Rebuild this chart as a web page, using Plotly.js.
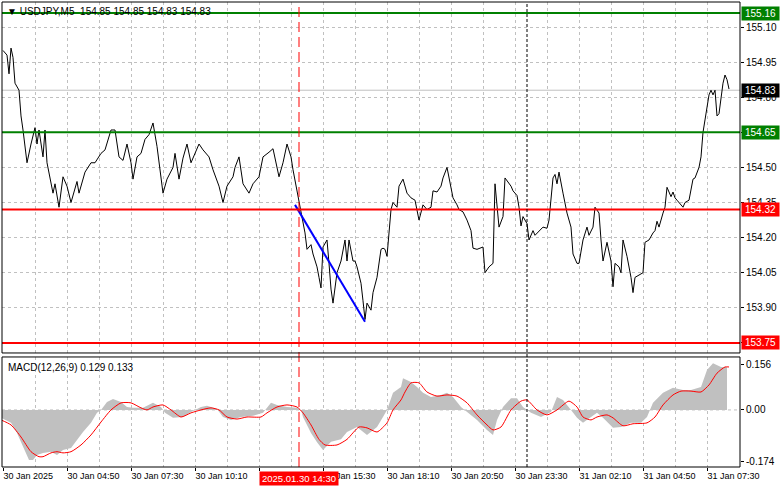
<!DOCTYPE html>
<html><head><meta charset="utf-8">
<script src="https://cdn.plot.ly/plotly-3.0.1.min.js"></script>
<style>html,body{margin:0;padding:0;background:#fff;}#chart{width:781px;height:489px;}</style>
</head><body><div id="chart"></div>
<script>
// ---- data (M5 bars counted from 30 Jan 02:10) ----
const priceBars = [0,2,3,4,5,6,8,9,10,11,12,14,16,17,18,20,21,22,25,26,28,30,32,34,37,38,41,44,46,49,51,54,56,58,60,62,64,65,67,69,71,73,75,77,78,80,82,85,86,88,90,92,94,96,98,100,103,105,108,110,112,115,116,118,119,120,123,125,128,130,133,135,138,140,142,144,145,148,150,151,152,154,155,157,158,159,160,162,163,164,165,167,169,170,171,172,173,175,176,177,179,180,181,182,184,185,187,189,190,191,192,194,195,197,198,200,202,204,206,208,210,212,214,215,217,219,220,222,224,225,227,228,230,232,234,235,237,240,241,243,245,246,248,250,251,254,255,257,258,259,260,262,263,265,266,270,272,273,275,276,277,278,280,282,284,285,287,288,290,292,293,295,296,298,299,300,302,304,305,306,308,309,310,312,314,315,316,318,320,321,323,325,326,327,328,330,331,332,334,335,336,337,340,341,343,345,346,348,349,350,351,352,353,354,355,356,357,358,359,360,361,362,363];
const priceValues = [155.00,154.98,154.90,155.01,154.97,154.86,154.83,154.72,154.66,154.59,154.52,154.60,154.67,154.60,154.66,154.545,154.66,154.52,154.39,154.43,154.33,154.46,154.42,154.35,154.44,154.39,154.48,154.52,154.52,154.56,154.575,154.66,154.66,154.545,154.53,154.60,154.52,154.45,154.545,154.56,154.62,154.64,154.69,154.59,154.52,154.39,154.45,154.50,154.56,154.45,154.54,154.60,154.52,154.56,154.60,154.575,154.545,154.49,154.42,154.35,154.42,154.46,154.50,154.545,154.48,154.43,154.39,154.43,154.46,154.545,154.565,154.58,154.46,154.52,154.60,154.545,154.49,154.36,154.26,154.22,154.15,154.17,154.13,154.075,154.03,153.985,154.16,154.19,154.09,153.98,153.92,154.05,154.10,154.15,154.19,154.10,154.19,154.10,154.10,154.075,154.005,153.93,153.85,153.92,153.89,153.965,154.03,154.15,154.155,154.15,154.12,154.32,154.35,154.33,154.42,154.45,154.39,154.37,154.36,154.275,154.34,154.32,154.33,154.40,154.395,154.42,154.455,154.50,154.42,154.37,154.34,154.32,154.31,154.275,154.23,154.155,154.15,154.16,154.05,154.075,154.09,154.43,154.245,154.29,154.455,154.42,154.40,154.38,154.33,154.25,154.29,154.26,154.19,154.23,154.21,154.245,154.24,154.275,154.455,154.47,154.43,154.48,154.39,154.305,154.245,154.13,154.09,154.09,154.19,154.245,154.21,154.245,154.33,154.305,154.19,154.10,154.18,154.10,153.99,154.09,154.075,154.05,154.19,154.12,154.03,153.965,154.03,154.04,154.05,154.18,154.19,154.22,154.23,154.27,154.245,154.305,154.33,154.415,154.375,154.395,154.37,154.36,154.33,154.35,154.36,154.45,154.455,154.50,154.545,154.65,154.70,154.745,154.81,154.83,154.81,154.83,154.72,154.73,154.80,154.86,154.895,154.875,154.835];

const histBars = [-1,4,7,10,13,15,17,20,24,27,30,34,37,40,44,47,49,52,55,59,62,65,70,75,79,81,85,90,94,99,102,107,110,114,119,125,130,134,137,142,147,149,150,154,157,160,164,169,172,177,182,187,190,192,195,199,200,204,207,210,214,219,222,225,229,232,237,242,245,247,250,254,257,260,264,269,274,277,280,284,287,290,294,297,300,305,309,314,319,322,325,330,335,340,344,349,352,355,359,362];
const histValues = [-0.027,-0.044,-0.078,-0.125,-0.17,-0.17,-0.153,-0.146,-0.142,-0.153,-0.136,-0.129,-0.10,-0.075,-0.044,-0.01,0,0.027,0.037,0.027,0.01,0.007,0.007,0.024,0.01,-0.01,-0.027,-0.024,-0.007,0.01,0.014,0.003,-0.024,-0.034,-0.024,-0.02,-0.01,0.024,0.017,0.01,0.007,0,-0.024,-0.078,-0.11,-0.136,-0.108,-0.10,-0.075,-0.058,-0.085,-0.058,-0.024,0,0.058,0.078,0.108,0.095,0.078,0.058,0.044,0.051,0.058,0.044,0.01,-0.007,-0.034,-0.068,-0.085,-0.034,0.01,0.04,0.04,0.01,-0.01,-0.024,-0.007,0.044,0.034,0,-0.027,-0.044,-0.024,-0.01,-0.027,-0.061,-0.058,-0.044,-0.044,-0.024,0.024,0.058,0.075,0.068,0.068,0.078,0.136,0.159,0.146,0.146];

const signalBars = [-1,4,9,14,18,20,24,27,30,34,39,44,49,54,59,64,69,72,75,80,84,89,94,99,104,108,112,117,122,129,132,137,142,147,150,154,158,161,167,172,178,182,187,192,195,199,201,204,208,212,217,222,227,232,237,242,245,249,254,259,262,267,272,277,283,287,290,294,297,302,305,310,315,322,326,330,335,339,344,349,353,357,361,363];
const signalValues = [-0.034,-0.051,-0.092,-0.142,-0.159,-0.159,-0.146,-0.142,-0.146,-0.142,-0.119,-0.085,-0.041,0,0.024,0.024,0.007,0,0.01,0.017,0,-0.024,-0.01,0,0.007,0,-0.024,-0.031,-0.024,-0.024,-0.01,0.01,0.017,0.01,-0.01,-0.051,-0.10,-0.119,-0.119,-0.10,-0.058,-0.061,-0.075,-0.044,0,0.034,0.061,0.092,0.092,0.061,0.047,0.051,0.047,0.024,-0.017,-0.051,-0.068,-0.058,0,0.03,0.034,0,-0.017,0,0.03,0.01,-0.024,-0.034,-0.024,-0.017,-0.027,-0.054,-0.047,-0.044,-0.024,0.017,0.051,0.064,0.064,0.061,0.085,0.125,0.146,0.146];

const trendBars = [146, 181];
const trendPrices = [154.34, 153.84];

const supportResistance = [155.16, 154.65, 154.32, 153.75];
const levelLabels = ['155.16', '154.65', '154.32', '153.75'];
const lastPrice = 154.83;
const lastPriceLabel = '154.83';

const priceTicks = [155.10, 154.95, 154.80, 154.65, 154.50, 154.35, 154.20, 154.05, 153.90, 153.75];
// labels hidden behind the level boxes are left blank, as in the terminal
const priceTickText = ['155.10', '154.95', '154.80', '', '154.50', '154.35', '154.20', '154.05', '153.90', ''];
const macdTicks = [0.156, 0, -0.174];
const macdTickText = ['0.156', '0.00', '-0.174'];

const timeTickBars = [0, 32, 64, 96, 128, 160, 192, 224, 256, 288, 320, 352];
const timeTickLabels = ['30 Jan 2025', '30 Jan 04:50', '30 Jan 07:30', '30 Jan 10:10', '', '30 Jan 15:30', '30 Jan 18:10', '30 Jan 20:50', '30 Jan 23:30', '31 Jan 02:10', '31 Jan 04:50', '31 Jan 07:30'];
const gridMinorBars = [16, 48, 80, 112, 144, 176, 208, 240, 272, 304, 336, 368];

const eventBar = 148;
const eventLabel = '2025.01.30 14:30';
const daySeparatorBar = 262;

const headerText = 'USDJPY,M5\u00a0\u00a0154.85 154.85 154.83 154.83';
const macdTitle = 'MACD(12,26,9) 0.129 0.133';

// ---- style ----
const FONT = 'Liberation Sans, Arial, sans-serif';
const GRID = '#c0c0c0';
const GREEN = '#008000';
const RED = '#ff0000';
const levelColors = [GREEN, GREEN, RED, RED];
const mainDomain = [0.2452, 1];
const macdDomain = [0, 0.2366];
const xRange = [-0.5, 368.5];

const traces = [
  {x: histBars, y: histValues, xaxis: 'x2', yaxis: 'y2', type: 'scatter', mode: 'lines',
   fill: 'tozeroy', fillcolor: '#c0c0c0', line: {width: 0, color: '#c0c0c0'}, hoverinfo: 'skip'},
  {x: signalBars, y: signalValues, xaxis: 'x2', yaxis: 'y2', type: 'scatter', mode: 'lines',
   line: {color: RED, width: 1, shape: 'spline', smoothing: 0.6}, hoverinfo: 'skip'},
  {x: priceBars, y: priceValues, xaxis: 'x', yaxis: 'y', type: 'scatter', mode: 'lines',
   line: {color: '#000', width: 1}, hoverinfo: 'skip'},
  {x: trendBars, y: trendPrices, xaxis: 'x', yaxis: 'y', type: 'scatter', mode: 'lines',
   line: {color: '#0000ff', width: 2}, hoverinfo: 'skip'}
];

const shapes = [];
shapes.push({type: 'line', xref: 'paper', x0: 0, x1: 1, yref: 'y2', y0: 0, y1: 0,
  line: {color: GRID, width: 1, dash: '3px,3px'}, layer: 'below'});
shapes.push({type: 'line', xref: 'paper', x0: 0, x1: 1, yref: 'y', y0: lastPrice, y1: lastPrice,
  line: {color: '#c0c0c0', width: 1}, layer: 'below'});
supportResistance.forEach((v, k) => shapes.push({type: 'line', xref: 'paper', x0: 0, x1: 1, yref: 'y', y0: v, y1: v,
  line: {color: levelColors[k], width: 2}, layer: 'above'}));
shapes.push({type: 'line', xref: 'x', x0: eventBar, x1: eventBar, yref: 'paper', y0: 0, y1: 1,
  line: {color: RED, width: 1, dash: '10px,5px'}, layer: 'above'});
shapes.push({type: 'line', xref: 'x', x0: daySeparatorBar, x1: daySeparatorBar, yref: 'paper', y0: 0, y1: 1,
  line: {color: '#000', width: 1, dash: '3px,2px'}, layer: 'above'});
shapes.push({type: 'rect', xref: 'paper', yref: 'paper', x0: 0, x1: 1, y0: mainDomain[0], y1: mainDomain[1],
  line: {color: '#000', width: 1}, fillcolor: 'rgba(0,0,0,0)', layer: 'above'});
shapes.push({type: 'rect', xref: 'paper', yref: 'paper', x0: 0, x1: 1, y0: macdDomain[0], y1: macdDomain[1],
  line: {color: '#000', width: 1}, fillcolor: 'rgba(0,0,0,0)', layer: 'above'});

const annotations = [];
annotations.push({xref: 'paper', yref: 'paper', x: 0, y: 1, xanchor: 'left', yanchor: 'top', xshift: 3, yshift: -2,
  text: '\u25BC\u00a0' + headerText, showarrow: false,
  font: {family: FONT, size: 10, color: '#000'}});
annotations.push({xref: 'paper', yref: 'paper', x: 0, y: macdDomain[1], xanchor: 'left', yanchor: 'top', xshift: 4, yshift: -3,
  text: macdTitle, showarrow: false, font: {family: FONT, size: 10, color: '#000'}});
supportResistance.forEach((v, k) => annotations.push({xref: 'paper', yref: 'y', x: 1, y: v, xanchor: 'left', yanchor: 'middle',
  xshift: 1, text: levelLabels[k], showarrow: false, bgcolor: levelColors[k], borderpad: 1, width: 35, height: 11,
  font: {family: FONT, size: 10, color: '#fff'}}));
annotations.push({xref: 'paper', yref: 'y', x: 1, y: lastPrice, xanchor: 'left', yanchor: 'middle',
  xshift: 1, text: lastPriceLabel, showarrow: false, bgcolor: '#000', borderpad: 1, width: 35, height: 11,
  font: {family: FONT, size: 10, color: '#fff'}});
annotations.push({xref: 'x2', yref: 'paper', x: eventBar, y: 0, xanchor: 'center', yanchor: 'top', yshift: -4,
  text: eventLabel, showarrow: false, bgcolor: RED, borderpad: 1, width: 76, height: 11,
  font: {family: FONT, size: 9.5, color: '#fff'}});

const layout = {
  width: 781, height: 489,
  margin: {l: 2, r: 41, t: 2, b: 22, pad: 0},
  paper_bgcolor: '#fff', plot_bgcolor: '#fff', showlegend: false,
  font: {family: FONT, size: 10, color: '#000'},
  xaxis: {domain: [0, 1], anchor: 'y', range: xRange, tickmode: 'linear', tick0: 0, dtick: 16,
    showticklabels: false, ticks: '', showgrid: true, gridcolor: GRID, griddash: '3px,3px', gridwidth: 1,
    zeroline: false, showline: false, fixedrange: true},
  yaxis: {domain: mainDomain, anchor: 'x', side: 'right', range: [153.707, 155.207],
    tickmode: 'array', tickvals: priceTicks, ticktext: priceTickText, ticks: 'outside', ticklen: 3, tickcolor: '#000',
    showgrid: true, gridcolor: GRID, griddash: '3px,3px', zeroline: false, showline: false, fixedrange: true,
    tickfont: {family: FONT, size: 10, color: '#000'}},
  xaxis2: {domain: [0, 1], anchor: 'y2', range: xRange, tickmode: 'array', tickvals: timeTickBars, ticktext: timeTickLabels,
    ticks: 'outside', ticklen: 3, tickcolor: '#000', ticklabelposition: 'outside right',
    showgrid: true, gridcolor: GRID, griddash: '3px,3px', zeroline: false, showline: false, fixedrange: true,
    tickfont: {family: FONT, size: 9, color: '#000'},
    minor: {tickmode: 'array', tickvals: gridMinorBars, showgrid: true, gridcolor: GRID, griddash: '3px,3px', ticks: ''}},
  yaxis2: {domain: macdDomain, anchor: 'x2', side: 'right', range: [-0.194, 0.180],
    tickmode: 'array', tickvals: macdTicks, ticktext: macdTickText, ticks: 'outside', ticklen: 3, tickcolor: '#000',
    showgrid: false, zeroline: false, showline: false, fixedrange: true,
    tickfont: {family: FONT, size: 10, color: '#000'}},
  shapes: shapes,
  annotations: annotations
};

Plotly.newPlot('chart', traces, layout, {staticPlot: true, displayModeBar: false});
</script>
</body></html>
